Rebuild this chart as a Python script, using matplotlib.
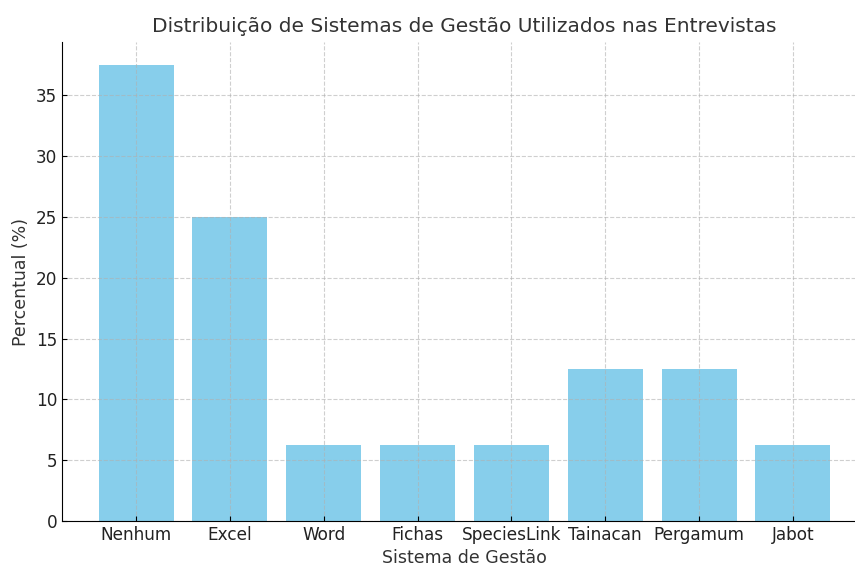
import matplotlib.pyplot as plt

sistemas = ["Nenhum", "Excel", "Word", "Fichas", "SpeciesLink", "Tainacan", "Pergamum", "Jabot"]
percentual = [37.5, 25.0, 6.25, 6.25, 6.25, 12.5, 12.5, 6.25]

fig = plt.figure(figsize=(8.55, 5.63), dpi=100)
ax = fig.add_axes([62 / 855, 42 / 563, 805 / 855, 479 / 563])

ax.bar(sistemas, percentual, color="skyblue")
ax.set_title("Distribuição de Sistemas de Gestão Utilizados nas Entrevistas", fontsize=14.5, color="#333333", pad=7)
ax.set_xlabel("Sistema de Gestão", fontsize=12.5, color="#333333", labelpad=4)
ax.set_ylabel("Percentual (%)", fontsize=12.5, color="#333333", labelpad=4)
ax.tick_params(direction="in", labelsize=12.2, labelcolor="#222222")
ax.grid(True, linestyle="--", alpha=0.6)
ax.spines["top"].set_visible(False)
ax.spines["right"].set_visible(False)

fig.savefig("out.png", dpi=100)
